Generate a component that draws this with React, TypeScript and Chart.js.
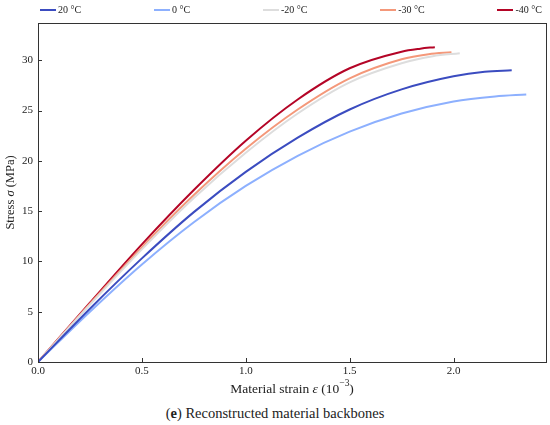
import { useEffect, useRef } from 'react';
import { Chart, registerables, Plugin } from 'chart.js';

Chart.register(...registerables);

const seriesNames = ['20 °C', '0 °C', '-20 °C', '-30 °C', '-40 °C'];
const seriesColors = ['#3b4cc0', '#8db0fe', '#dddddd', '#f4987a', '#b40426'];

const strain20 = [0, 0.25, 0.5, 0.75, 1.0, 1.25, 1.5, 1.75, 2.0, 2.15, 2.28];
const stress20 = [0, 5.3, 10.3, 14.9, 18.9, 22.3, 25.1, 27.1, 28.4, 28.85, 29.0];

const strain0 = [0, 0.25, 0.5, 0.75, 1.0, 1.25, 1.5, 1.75, 2.0, 2.2, 2.35];
const stress0 = [0, 5.0, 9.7, 13.9, 17.5, 20.5, 22.9, 24.7, 25.9, 26.4, 26.6];

const strainM20 = [0, 0.25, 0.5, 0.75, 1.0, 1.25, 1.5, 1.75, 1.9, 2.03];
const stressM20 = [0, 5.7, 11.2, 16.3, 20.8, 24.7, 27.8, 29.7, 30.4, 30.7];

const strainM30 = [0, 0.25, 0.5, 0.75, 1.0, 1.25, 1.5, 1.75, 1.88, 1.99];
const stressM30 = [0, 5.8, 11.4, 16.6, 21.2, 25.1, 28.2, 30.1, 30.6, 30.8];

const strainM40 = [0, 0.25, 0.5, 0.75, 1.0, 1.25, 1.5, 1.75, 1.84, 1.91];
const stressM40 = [0, 5.9, 11.7, 17.1, 22.0, 26.1, 29.2, 30.85, 31.15, 31.3];

const strains = [strain20, strain0, strainM20, strainM30, strainM40];
const stresses = [stress20, stress0, stressM20, stressM30, stressM40];

const FONT = '"Liberation Serif", "Times New Roman", serif';

type Seg = { t: string; italic?: boolean; sup?: boolean };

const xTitle: Seg[] = [
  { t: 'Material strain ' },
  { t: 'ε', italic: true },
  { t: ' (10' },
  { t: '−3', sup: true },
  { t: ')' },
];
const yTitle: Seg[] = [{ t: 'Stress ' }, { t: 'σ', italic: true }, { t: ' (MPa)' }];

function drawRich(ctx: CanvasRenderingContext2D, segs: Seg[], cx: number, cy: number, size: number) {
  const fontOf = (s: Seg) => `${s.italic ? 'italic ' : ''}${s.sup ? size * 0.7 : size}px ${FONT}`;
  let total = 0;
  const widths = segs.map((s) => {
    ctx.font = fontOf(s);
    const w = ctx.measureText(s.t).width;
    total += w;
    return w;
  });
  let x = cx - total / 2;
  ctx.textBaseline = 'middle';
  ctx.textAlign = 'left';
  segs.forEach((s, i) => {
    ctx.font = fontOf(s);
    ctx.fillText(s.t, x, s.sup ? cy - size * 0.38 : cy);
    x += widths[i];
  });
}

// frame, inward ticks and the rich axis titles
const framePlugin: Plugin<'line'> = {
  id: 'frame',
  afterDraw(chart) {
    const { ctx, chartArea } = chart;
    const { left, right, top, bottom } = chartArea;
    const xs = chart.scales.x;
    const ys = chart.scales.y;
    ctx.save();
    ctx.strokeStyle = '#333';
    ctx.lineWidth = 1;
    ctx.beginPath();
    xs.ticks.forEach((t) => {
      const px = Math.round(xs.getPixelForValue(t.value)) + 0.5;
      ctx.moveTo(px, bottom);
      ctx.lineTo(px, bottom - 4);
    });
    ys.ticks.forEach((t) => {
      const py = Math.round(ys.getPixelForValue(t.value)) + 0.5;
      ctx.moveTo(left, py);
      ctx.lineTo(left + 4, py);
    });
    ctx.stroke();
    ctx.strokeRect(Math.round(left) + 0.5, Math.round(top) + 0.5, Math.round(right - left), Math.round(bottom - top));

    ctx.fillStyle = '#222';
    drawRich(ctx, xTitle, (left + right) / 2, 389, 13.5);
    ctx.translate(11, (top + bottom) / 2);
    ctx.rotate(-Math.PI / 2);
    drawRich(ctx, yTitle, 0, 0, 12.5);
    ctx.restore();
  },
};

function BackboneChart() {
  const canvasRef = useRef<HTMLCanvasElement>(null);

  useEffect(() => {
    if (!canvasRef.current) return;
    const chart = new Chart(canvasRef.current, {
      type: 'line',
      data: {
        datasets: seriesNames.map((name, i) => ({
          label: name,
          data: strains[i].map((x, j) => ({ x, y: stresses[i][j] })),
          borderColor: seriesColors[i],
          backgroundColor: seriesColors[i],
          borderWidth: 2,
          pointRadius: 0,
          cubicInterpolationMode: 'monotone' as const,
        })),
      },
      options: {
        responsive: false,
        animation: false,
        layout: { padding: { top: 23, right: 4, left: 0, bottom: 0 } },
        plugins: { legend: { display: false }, tooltip: { enabled: false } },
        scales: {
          x: {
            type: 'linear',
            min: 0,
            max: 2.445,
            grid: { display: false, drawTicks: false },
            border: { display: false },
            ticks: {
              stepSize: 0.5,
              includeBounds: false,
              padding: 3,
              color: '#222',
              font: { family: FONT, size: 11 },
              callback: (v) => Number(v).toFixed(1),
            },
            afterFit: (s) => {
              s.height = 38;
            },
          },
          y: {
            min: 0,
            max: 33.7,
            grid: { display: false, drawTicks: false },
            border: { display: false },
            ticks: {
              stepSize: 5,
              includeBounds: false,
              padding: 5,
              color: '#222',
              font: { family: FONT, size: 11 },
            },
            afterFit: (s) => {
              s.width = 38;
            },
          },
        },
      },
      plugins: [framePlugin],
    });
    return () => chart.destroy();
  }, []);

  return <canvas ref={canvasRef} width={550} height={400} style={{ display: 'block' }} />;
}

export default function App() {
  return (
    <div
      style={{
        position: 'absolute',
        left: 0,
        top: 0,
        width: 550,
        height: 425,
        background: '#fff',
        fontFamily: FONT,
        color: '#222',
      }}
    >
      <BackboneChart />
      <div
        style={{
          position: 'absolute',
          left: 40,
          right: 8,
          top: 4,
          display: 'flex',
          justifyContent: 'space-between',
          fontSize: 10,
          lineHeight: '12px',
        }}
      >
        {seriesNames.map((name, i) => (
          <div key={name} style={{ display: 'flex', alignItems: 'center' }}>
            <span
              style={{ width: 16, height: 2.5, background: seriesColors[i], marginRight: 2, display: 'inline-block' }}
            />
            <span>{name}</span>
          </div>
        ))}
      </div>
      <div
        style={{
          position: 'absolute',
          left: 0,
          width: 550,
          top: 404,
          textAlign: 'center',
          fontSize: 14.5,
          lineHeight: '18px',
        }}
      >
        (<b>e</b>) Reconstructed material backbones
      </div>
    </div>
  );
}
